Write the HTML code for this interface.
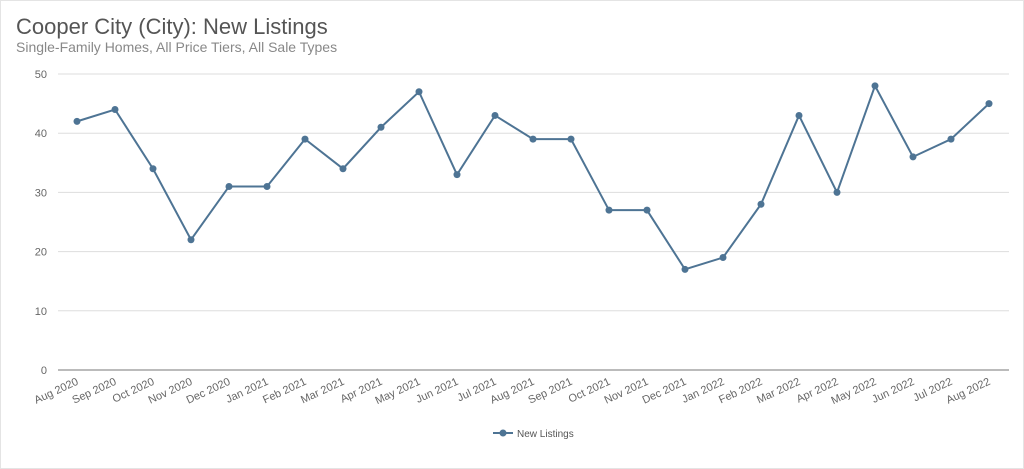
<!DOCTYPE html>
<html><head><meta charset="utf-8"><style>
html,body{margin:0;padding:0;background:#fff;}
#wrap{position:relative;width:1022px;height:467px;border:1px solid #e4e4e4;font-family:"Liberation Sans",sans-serif;overflow:hidden}
#title{position:absolute;left:15px;top:13px;font-size:22px;color:#555;}
#sub{position:absolute;left:15px;top:38px;font-size:14px;color:#888;}
</style></head><body>
<div id="wrap">
<div id="title">Cooper City (City): New Listings</div>
<div id="sub">Single-Family Homes, All Price Tiers, All Sale Types</div>
<svg id="chart" width="1022" height="467" style="position:absolute;left:0;top:0"></svg>
</div>
<script>
const categories=["Aug 2020","Sep 2020","Oct 2020","Nov 2020","Dec 2020","Jan 2021","Feb 2021","Mar 2021","Apr 2021","May 2021","Jun 2021","Jul 2021","Aug 2021","Sep 2021","Oct 2021","Nov 2021","Dec 2021","Jan 2022","Feb 2022","Mar 2022","Apr 2022","May 2022","Jun 2022","Jul 2022","Aug 2022"];
const newListings=[42,44,34,22,31,31,39,34,41,47,33,43,39,39,27,27,17,19,28,43,30,48,36,39,45];
const yTicks=[0,10,20,30,40,50];
const NS="http://www.w3.org/2000/svg";
const svg=document.getElementById('chart');
const x0=76,x1=988,yB=369,yT=73;
const xs=i=>x0+(x1-x0)*i/(categories.length-1);
const ys=v=>yB-(yB-yT)*v/50;
function mk(t,a){const e=document.createElementNS(NS,t);for(const k in a)e.setAttribute(k,a[k]);svg.appendChild(e);return e;}
yTicks.forEach(t=>{
  const l=mk('line',{x1:57,x2:1008,y1:ys(t),y2:ys(t),stroke:t===0?'#777':'#ddd','stroke-width':1});
  
  
  const tx=mk('text',{x:46,y:ys(t)+4,'text-anchor':'end','font-size':11,fill:'#666','font-family':'Liberation Sans, sans-serif'});
  tx.textContent=t;
  
  
});
categories.forEach((c,i)=>{
  const tx=mk('text',{x:xs(i)+2,y:yB+14,'text-anchor':'end','font-size':11,fill:'#666','font-family':'Liberation Sans, sans-serif',transform:`rotate(-25 ${xs(i)+2} ${yB+14})`});
  tx.textContent=c;
  
  
});
const p=mk('polyline',{points:newListings.map((v,i)=>xs(i)+','+ys(v)).join(' '),fill:'none',stroke:'#4e7494','stroke-width':2});


newListings.forEach((v,i)=>{
  const c=mk('circle',{cx:xs(i),cy:ys(v),r:3.5,fill:'#4e7494'});
  
  
});
const lg=mk('line',{x1:492,x2:512,y1:432,y2:432,stroke:'#4e7494','stroke-width':2});


const lc=mk('circle',{cx:502,cy:432,r:3.5,fill:'#4e7494'});


const lt=mk('text',{x:516,y:436,'font-size':10,fill:'#555','font-family':'Liberation Sans, sans-serif'});
lt.textContent='New Listings';


</script>
</body></html>
